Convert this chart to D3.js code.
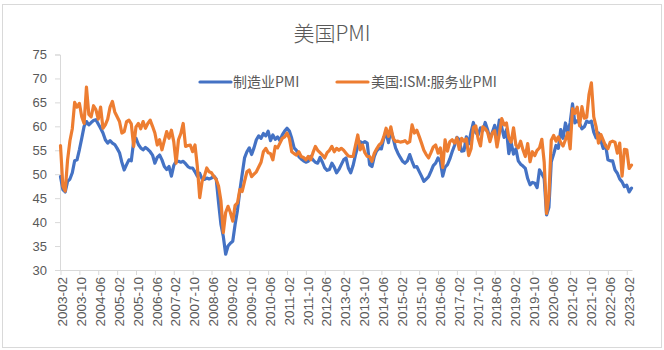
<!DOCTYPE html>
<html><head><meta charset="utf-8">
<script src="https://cdn.jsdelivr.net/npm/d3@7"></script>
<style>body{margin:0;background:#fff}svg{display:block}text{font-family:"Liberation Sans","Noto Sans CJK SC",sans-serif}</style>
</head><body><svg id="c" width="664" height="350"></svg>
<script>
const title = "美国PMI";
const seriesNames = ["制造业PMI", "美国:ISM:服务业PMI"];
const colors = ["#4472C4", "#ED7D31"];
const startMonth = "2003-02";
const yTicks = [30, 35, 40, 45, 50, 55, 60, 65, 70, 75];
const xTickLabels = ["2003-02","2003-10","2004-06","2005-02","2005-10","2006-06","2007-02","2007-10","2008-06","2009-02","2009-10","2010-06","2011-02","2011-10","2012-06","2013-02","2013-10","2014-06","2015-02","2015-10","2016-06","2017-02","2017-10","2018-06","2019-02","2019-10","2020-06","2021-02","2021-10","2022-06","2023-02"];

const manufacturing = [
 49.5,46.8,46.3,48.5,49.0,50.3,52.8,53.0,55.1,57.5,60.0,
 61.0,60.3,60.8,61.2,61.4,60.5,59.6,58.6,57.2,56.5,57.0,56.5,
 56.2,55.4,54.5,52.5,50.9,52.0,53.0,52.8,56.8,57.5,56.2,55.5,
 55.1,55.6,55.2,54.7,54.0,52.3,53.5,54.0,53.0,51.6,51.0,51.6,
 49.6,51.8,52.7,52.7,52.5,52.7,52.2,51.6,51.3,51.3,50.5,49.6,
 50.2,49.0,48.9,49.2,49.0,49.2,49.6,49.0,44.0,39.5,37.0,33.3,
 35.0,35.6,36.0,39.5,42.5,46.5,50.0,53.4,54.7,55.5,54.1,55.5,
 57.2,58.0,57.5,58.5,58.0,59.0,57.0,58.2,57.3,57.8,57.0,58.2,
 59.0,59.6,59.0,57.5,55.5,55.0,53.7,53.2,52.8,52.5,52.7,53.7,
 53.0,52.5,52.3,53.5,52.5,51.3,50.8,51.0,52.3,51.5,50.3,51.0,
 52.0,53.0,53.4,51.3,50.3,51.8,54.0,55.8,56.8,56.5,56.8,56.5,
 52.0,51.6,53.7,54.9,55.4,55.3,57.5,58.6,56.6,59.2,57.5,55.5,
 54.4,53.5,52.7,52.3,52.8,54.1,52.7,51.5,51.6,50.6,49.6,48.5,
 49.0,49.5,50.6,51.8,52.3,53.4,52.6,49.6,51.5,52.0,53.2,54.7,
 56.0,57.7,57.2,54.8,54.9,57.8,56.3,58.8,60.8,58.7,58.2,59.7,
 59.1,60.8,59.3,57.3,58.7,60.2,58.1,61.3,59.8,57.7,59.3,54.3,
 56.6,54.2,55.3,52.8,52.1,51.7,51.2,49.1,47.8,48.3,48.1,47.2,
 50.9,50.1,49.1,41.5,43.1,52.6,54.2,56.0,55.4,59.3,57.5,60.7,
 58.7,60.8,64.7,60.7,61.2,60.6,59.5,59.9,61.1,60.8,61.1,58.8,
 57.6,58.6,57.1,55.4,56.1,53.0,52.8,52.8,50.9,50.2,49.0,48.4,
 47.4,47.7,46.3,47.1
];
const services = [
 56.0,47.5,46.5,53.0,57.0,59.5,65.0,64.0,64.8,62.0,60.6,
 68.2,62.5,62.0,64.3,63.5,61.5,64.0,59.6,60.3,61.5,64.0,65.2,
 63.0,62.0,61.0,58.6,58.9,61.0,61.3,60.5,55.8,59.9,60.6,59.5,
 61.0,59.6,60.6,61.3,60.0,58.6,56.1,57.2,55.1,57.0,58.9,57.5,
 59.2,56.8,52.3,57.2,58.5,60.6,55.8,56.0,56.1,54.7,56.1,51.6,
 45.1,48.5,49.6,51.3,50.5,50.3,49.5,48.9,47.5,44.4,37.8,42.0,
 43.3,42.0,40.2,43.5,44.0,46.8,46.4,48.5,50.5,50.9,49.5,50.0,
 50.5,51.5,52.5,54.7,55.4,54.5,54.3,53.0,55.8,55.5,56.5,57.5,
 57.8,58.6,57.5,54.7,54.3,54.0,54.7,53.7,53.5,53.0,53.7,53.0,
 54.5,55.8,55.0,54.5,54.0,53.4,54.5,55.0,55.8,54.7,55.4,55.0,
 55.4,55.0,54.4,53.8,53.7,53.7,56.0,58.2,55.1,56.1,54.5,53.7,
 53.7,52.7,54.4,55.3,56.1,56.5,57.8,59.6,57.9,59.9,57.5,56.8,
 56.9,56.7,56.8,57.0,56.5,56.8,60.3,58.6,59.2,57.9,56.5,55.0,
 54.1,53.4,54.5,55.7,56.1,54.4,55.5,51.4,57.2,54.8,56.8,57.2,
 56.5,57.6,55.2,57.5,56.9,57.4,53.9,55.3,59.8,60.1,57.4,55.9,
 59.9,59.5,58.8,56.8,58.6,59.1,55.7,58.5,61.6,60.3,60.7,57.6,
 56.7,59.7,56.1,55.5,56.9,55.1,53.7,56.4,52.6,54.7,53.9,55.0,
 55.5,57.3,52.5,41.8,45.4,57.1,58.1,56.9,57.8,56.6,55.9,57.2,
 58.7,55.3,63.7,62.7,64.0,60.1,64.1,61.7,61.9,66.7,69.1,62.0,
 59.9,56.5,58.3,57.1,55.9,55.3,56.7,56.9,56.7,54.4,56.5,49.6,
 55.2,55.1,51.2,51.9
];

// month categories
const [sy, sm] = startMonth.split("-").map(Number);
const categories = manufacturing.map((_, i) => {
  const t = sy * 12 + (sm - 1) + i;
  return Math.floor(t / 12) + "-" + String(t % 12 + 1).padStart(2, "0");
});

const svg = d3.select("#c");
const pLeft = 60, pRight = 631.5, pTop = 54.5, pBottom = 270;
const x = d3.scalePoint().domain(categories).range([pLeft + 0.5, pRight]);
const y = d3.scaleLinear().domain([30, 75]).range([pBottom, pTop]);
const grey = "#595959", axisCol = "#d9d9d9";

svg.append("rect").attr("x", 2.5).attr("y", 4.5).attr("width", 659).attr("height", 343)
  .attr("fill", "#fff").attr("stroke", axisCol);

svg.append("text").attr("x", 332).attr("y", 41).attr("text-anchor", "middle")
  .attr("font-size", 21).attr("fill", grey).style("font-family", '"Noto Sans CJK SC",sans-serif')
  .attr("font-weight", 300).text(title);

// y axis
const yAxis = svg.append("g").attr("transform", `translate(${pLeft},0)`)
  .call(d3.axisLeft(y).tickValues(yTicks).tickSize(5).tickPadding(8));
yAxis.select(".domain").attr("stroke", axisCol);
yAxis.selectAll(".tick line").attr("stroke", axisCol);
yAxis.selectAll(".tick text").attr("fill", grey).attr("font-size", 13)
  .style("font-family", '"Liberation Sans",sans-serif');

// x axis
const xAxis = svg.append("g").attr("transform", `translate(0,${pBottom})`)
  .call(d3.axisBottom(x).tickValues(xTickLabels).tickSize(5).tickSizeOuter(0));
xAxis.select(".domain").attr("stroke", axisCol).attr("d", `M${pLeft},0.5H${pRight + 1}`);
xAxis.selectAll(".tick line").attr("stroke", axisCol);
xAxis.selectAll(".tick text").attr("fill", grey).attr("font-size", 13.5)
  .style("font-family", '"Liberation Sans",sans-serif')
  .attr("text-anchor", "end").attr("dy", "0.35em")
  .attr("transform", "translate(1.5,7) rotate(-90)").attr("x", 0).attr("y", 0);

// lines
const seriesData = [manufacturing, services];
const line = d3.line().x((d, i) => x(categories[i])).y(d => y(d));
seriesData.forEach((s, k) => {
  svg.append("path").datum(s).attr("d", line).attr("fill", "none")
    .attr("stroke", colors[k]).attr("stroke-width", 3.2)
    .attr("stroke-linejoin", "round").attr("stroke-linecap", "round");
});

// legend
const legendPos = [[200, 233], [337, 371]];
seriesNames.forEach((n, k) => {
  const g = svg.append("g");
  g.append("line").attr("x1", legendPos[k][0]).attr("x2", legendPos[k][0] + 31)
    .attr("y1", 82).attr("y2", 82).attr("stroke", colors[k]).attr("stroke-width", 3.2)
    .attr("stroke-linecap", "round");
  g.append("text").attr("x", legendPos[k][1]).attr("y", 82).attr("dy", "0.35em")
    .attr("font-size", 14).attr("fill", grey)
    .style("font-family", '"Noto Sans CJK SC",sans-serif').text(n);
});
</script></body></html>
